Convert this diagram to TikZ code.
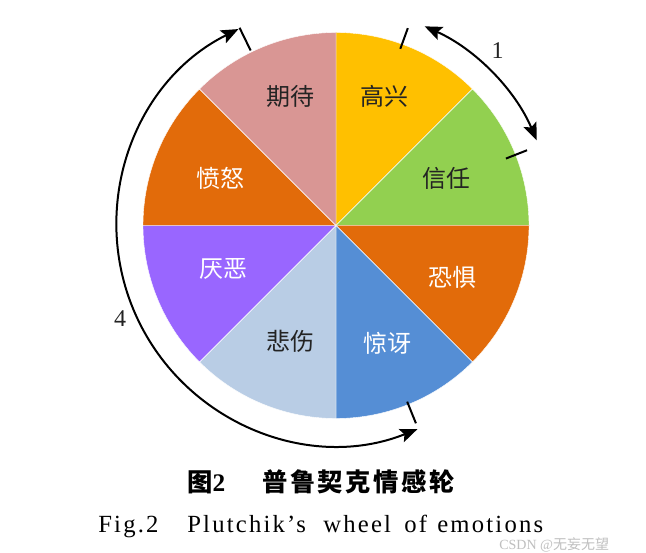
\documentclass[tikz,border=0pt]{standalone}
\usepackage{fontspec}
\setmainfont{Liberation Serif}
\newfontfamily\cjk{Noto Sans CJK SC}
\newfontfamily\serifsp{Liberation Serif}[LetterSpace=9]
\newfontfamily\cjksp{Noto Sans CJK SC}[LetterSpace=10]
\usetikzlibrary{arrows.meta,calc}
\definecolor{cJoy}{RGB}{255,192,0}
\definecolor{cTrust}{RGB}{146,208,80}
\definecolor{cFear}{RGB}{226,107,10}
\definecolor{cSurp}{RGB}{85,142,213}
\definecolor{cSad}{RGB}{185,205,229}
\definecolor{cDisg}{RGB}{153,102,255}
\definecolor{cAnger}{RGB}{226,107,10}
\definecolor{cAntic}{RGB}{217,150,148}
\definecolor{darktxt}{RGB}{35,35,35}
\begin{document}
\begin{tikzpicture}[x=0.75pt,y=0.75pt,
  sector/.style={draw=white,line width=0.3pt},
  lab/.style={font=\cjk\fontsize{18}{18}\selectfont,inner sep=0pt},
  darklab/.style={lab,text=darktxt},
  lightlab/.style={lab,text=white},
  ring/.style={line width=1.5pt,{Stealth[length=13pt,width=10.5pt,inset=2.5pt]}-{Stealth[length=13pt,width=10.5pt,inset=2.5pt]}},
  tickline/.style={line width=1.5pt},
  num/.style={font=\fontsize{18}{18}\selectfont,inner sep=0pt,text=darktxt},
  capcn/.style={font=\cjksp\bfseries\fontsize{19}{19}\selectfont,inner sep=0pt,anchor=west},
  capen/.style={font=\serifsp\fontsize{18.5}{18.5}\selectfont,inner sep=0pt,anchor=base west},
  wmark/.style={font=\fontsize{10.5}{10.5}\selectfont,inner sep=0pt,anchor=west,text=black!25}]
\useasboundingbox[fill=white] (0,0) rectangle (646,553);
\coordinate (C) at (336,327.5);
\def\R{144.75pt}
% sectors
\foreach \a/\b/\c in {90/45/cJoy,45/0/cTrust,0/-45/cFear,-45/-90/cSurp,-90/-135/cSad,-135/-180/cDisg,180/135/cAnger,135/90/cAntic}
  \fill[\c,sector] (C) -- ($(C)+(\a:\R)$) arc[start angle=\a,end angle=\b,radius=\R] -- cycle;
% labels
\node[darklab] (joy) at (384,456.5) {高兴};
\node[darklab] (trust) at (446,375) {信任};
\node[lightlab] (fear) at (452,276) {恐惧};
\node[lightlab] (surp) at (387,210) {惊讶};
\node[darklab] (sad) at (290,212) {悲伤};
\node[lightlab] (disg) at (223,284) {厌恶};
\node[lightlab] (anger) at (220,375) {愤怒};
\node[darklab] (antic) at (290,456.5) {期待};
% ticks
\draw[tickline] ($(C)+(70:141pt)$) -- ($(C)+(70:157.5pt)$);
\draw[tickline] ($(C)+(21.5:137pt)$) -- ($(C)+(21.5:154pt)$);
\draw[tickline] ($(C)+(116:146pt)$) -- ($(C)+(116:165pt)$);
\draw[tickline] ($(C)+(292:142.5pt)$) -- ($(C)+(292:160pt)$);
% arcs
\draw[ring] ($(C)+(66:163.5pt)$) arc[start angle=66,end angle=23,radius=163.5pt];
\draw[ring] ($(C)+(116.4:164.5pt)$) arc[start angle=116.4,end angle=291.8,radius=164.5pt];
\node[num] (one) at (497.5,502) {1};
\node[num] (four) at (120,234) {4};
% captions
\node[capcn] (fig) at (187,71) {图{\serifsp\bfseries 2}};
\node[capcn] (title) at (262,71) {普鲁契克情感轮};
\node[capen] (e1) at (98,20) {Fig.2};
\node[capen] (e2) at (187,20) {Plutchik’s};
\node[capen] (e3) at (323,20) {wheel};
\node[capen] (e4) at (404,20) {of};
\node[capen] (e5) at (437,20) {emotions};
\node[wmark] (wm) at (499,8) {CSDN @{\cjk 无妄无望}};
\end{tikzpicture}
\end{document}
